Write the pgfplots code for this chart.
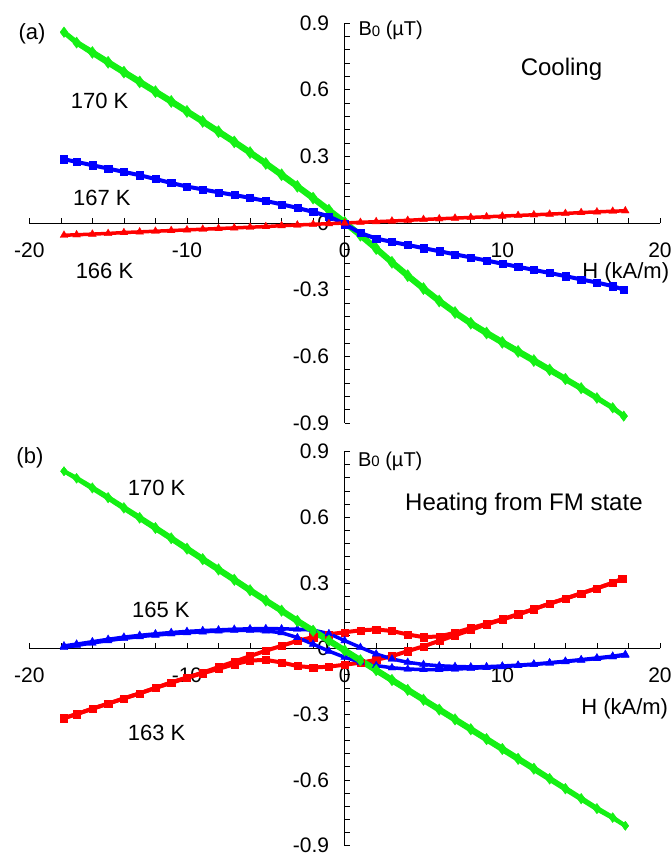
\documentclass[border=0pt]{standalone}
\usepackage{fontspec}
\setmainfont{Liberation Sans}
\usepackage{pgfplots}
\pgfplotsset{compat=1.18}
\definecolor{cgreen}{RGB}{20,240,20}
\definecolor{cblue}{RGB}{0,0,255}
\definecolor{cred}{RGB}{255,0,0}
\newcommand{\tfont}{\fontsize{21}{25}\selectfont}
\newcommand{\lfont}{\fontsize{22}{26}\selectfont}
\newcommand{\bfont}{\fontsize{24}{28}\selectfont}
\newcommand{\Bzero}{\fontsize{20}{24}\selectfont B\raisebox{-0.5pt}{\fontsize{15}{18}\selectfont 0} (µT)}
\pgfplotsset{myax/.style={
  scale only axis, width=630.7pt,
  xmin=-20, xmax=20, ymin=-0.9, ymax=0.9,
  axis lines=middle, axis line style={-, black, line width=0.8pt},
  xtick={-20,-10,0,10,20}, xticklabels={-20,-10,0,10,20},
  ytick={-0.9,-0.6,-0.3,0,0.3,0.6,0.9},
  yticklabels={-0.9,-0.6,-0.3,0,0.3,0.6,0.9},
  minor x tick num=4, minor y tick num=4,
  tick align=inside, major tick length=5pt, minor tick length=5pt,
  tick style={black, line width=0.6pt},
  hide obscured x ticks=false, hide obscured y ticks=false,
  tick label style={font=\tfont},
  xticklabel style={yshift=-16pt},
  yticklabel style={xshift=-12pt},
  clip=false,
},
gr/.style={cgreen, line width=4.5pt, mark=diamond*, mark size=5pt, mark options={solid,line width=0.3pt}},
bs/.style={cblue, line width=4pt, mark=square*, mark size=3.6pt, mark options={solid,line width=0.3pt}},
bt/.style={cblue, line width=3.5pt, mark=triangle*, mark size=4.5pt, mark options={solid,line width=0.3pt}},
rs/.style={cred, line width=4pt, mark=square*, mark size=3.6pt, mark options={solid,line width=0.3pt}},
rt/.style={cred, line width=3.5pt, mark=triangle*, mark size=4.5pt, mark options={solid,line width=0.3pt}},
}
\begin{document}
\begin{tikzpicture}[x=1pt,y=1pt]
\useasboundingbox (0,0) rectangle (672,857);
% ---------------- panel (a) ----------------
\begin{axis}[myax, at={(29.3pt,434pt)}, anchor=south west, height=400pt]
\addplot[gr] table {
-17.8 0.86
-17 0.815
-16 0.772
-15 0.728
-14 0.684
-13 0.64
-12 0.596
-11 0.552
-10 0.507
-9 0.462
-8 0.416
-7 0.37
-6 0.322
-5 0.273
-4 0.222
-3 0.17
-2 0.117
-1 0.063
0 0.008
1 -0.05
2 -0.11
3 -0.172
4 -0.232
5 -0.29
6 -0.346
7 -0.398
8 -0.446
9 -0.49
10 -0.532
11 -0.573
12 -0.614
13 -0.656
14 -0.698
15 -0.74
16 -0.785
17 -0.83
17.7 -0.868
};
\addplot[gr] table {
-17.8 0.857
-17 0.809
-16 0.763
-15 0.718
-14 0.674
-13 0.63
-12 0.586
-11 0.542
-10 0.497
-9 0.452
-8 0.406
-7 0.36
-6 0.312
-5 0.263
-4 0.212
-3 0.16
-2 0.107
-1 0.053
0 -0.002
1 -0.06
2 -0.12
3 -0.182
4 -0.242
5 -0.3
6 -0.356
7 -0.408
8 -0.456
9 -0.5
10 -0.542
11 -0.583
12 -0.624
13 -0.665
14 -0.706
15 -0.747
16 -0.79
17 -0.833
17.7 -0.87
};
\addplot[bs] table {
-17.8 0.287
-17 0.275
-16 0.26
-15 0.245
-14 0.23
-13 0.215
-12 0.198
-11 0.18
-10 0.164
-9 0.151
-8 0.138
-7 0.126
-6 0.113
-5 0.099
-4 0.084
-3 0.068
-2 0.05
-1 0.03
0 -0.005
1 -0.045
2 -0.07
3 -0.085
4 -0.099
5 -0.113
6 -0.127
7 -0.141
8 -0.155
9 -0.169
10 -0.183
11 -0.197
12 -0.211
13 -0.225
14 -0.239
15 -0.254
16 -0.268
17 -0.284
17.7 -0.3
};
\addplot[rt] table {
-17.8 -0.055
-17 -0.053
-16 -0.05
-15 -0.047
-14 -0.043
-13 -0.04
-12 -0.037
-11 -0.034
-10 -0.031
-9 -0.028
-8 -0.025
-7 -0.022
-6 -0.019
-5 -0.016
-4 -0.012
-3 -0.009
-2 -0.006
-1 -0.003
0 0
1 0.003
2 0.006
3 0.009
4 0.012
5 0.016
6 0.019
7 0.022
8 0.025
9 0.028
10 0.031
11 0.034
12 0.037
13 0.04
14 0.043
15 0.047
16 0.05
17 0.053
17.8 0.055
};
\node[font=\lfont, inner sep=0pt] at (axis cs:-19.83,0.85) {(a)};
\node[font=\lfont, inner sep=0pt] at (axis cs:-15.54,0.55) {170 K};
\node[font=\lfont, inner sep=0pt] at (axis cs:-15.4,0.115) {167 K};
\node[font=\lfont, inner sep=0pt] at (axis cs:-15.23,-0.215) {166 K};
\node[font=\bfont, inner sep=0pt] at (axis cs:13.75,0.693) {Cooling};
\node[inner sep=0pt, anchor=west] at (axis cs:0.87,0.865) {\Bzero};
\node[font=\lfont, inner sep=0pt] at (axis cs:17.83,-0.222) {H (kA/m)};
\end{axis}
% ---------------- panel (b) ----------------
\begin{axis}[myax, at={(29.3pt,11.5pt)}, anchor=south west, height=394pt]
\addplot[rs] table {
-17.8 -0.318
-17 -0.3
-16 -0.275
-15 -0.252
-14 -0.228
-13 -0.205
-12 -0.18
-11 -0.155
-10 -0.132
-9 -0.11
-8 -0.085
-7 -0.06
-6 -0.035
-5 -0.01
-4 0.012
-3 0.035
-2 0.052
-1 0.065
0 0.074
1 0.083
2 0.087
3 0.08
4 0.064
5 0.052
6 0.055
7 0.072
8 0.093
9 0.113
10 0.134
11 0.157
12 0.18
13 0.205
14 0.228
15 0.252
16 0.275
17 0.3
17.6 0.318
};
\addplot[rs] table {
-17.8 -0.318
-17 -0.3
-16 -0.275
-15 -0.252
-14 -0.228
-13 -0.205
-12 -0.18
-11 -0.157
-10 -0.134
-9 -0.113
-8 -0.093
-7 -0.072
-6 -0.055
-5 -0.052
-4 -0.064
-3 -0.08
-2 -0.087
-1 -0.083
0 -0.074
1 -0.065
2 -0.052
3 -0.035
4 -0.012
5 0.01
6 0.035
7 0.06
8 0.085
9 0.11
10 0.132
11 0.155
12 0.18
13 0.205
14 0.228
15 0.252
16 0.275
17 0.3
17.6 0.318
};
\addplot[bt] table {
-17.8 0.012
-17 0.02
-16 0.031
-15 0.042
-14 0.052
-13 0.06
-12 0.067
-11 0.073
-10 0.078
-9 0.082
-8 0.085
-7 0.088
-6 0.09
-5 0.091
-4 0.09
-3 0.088
-2 0.084
-1 0.068
0 0.036
1 0.005
2 -0.025
3 -0.048
4 -0.063
5 -0.073
6 -0.079
7 -0.082
8 -0.084
9 -0.083
10 -0.08
11 -0.076
12 -0.071
13 -0.065
14 -0.058
15 -0.051
16 -0.043
17 -0.035
17.8 -0.027
};
\addplot[bt] table {
-17.8 0.005
-17 0.014
-16 0.025
-15 0.036
-14 0.046
-13 0.054
-12 0.061
-11 0.067
-10 0.072
-9 0.076
-8 0.08
-7 0.083
-6 0.083
-5 0.08
-4 0.072
-3 0.05
-2 0.02
-1 -0.012
0 -0.04
1 -0.062
2 -0.078
3 -0.088
4 -0.094
5 -0.096
6 -0.096
7 -0.094
8 -0.091
9 -0.087
10 -0.083
11 -0.078
12 -0.073
13 -0.067
14 -0.06
15 -0.053
16 -0.046
17 -0.038
17.8 -0.031
};
\addplot[gr, line width=4pt, mark size=4.5pt] table {
-17.8 0.81
-17 0.775
-16 0.73
-15 0.685
-14 0.638
-13 0.592
-12 0.545
-11 0.498
-10 0.45
-9 0.402
-8 0.355
-7 0.308
-6 0.26
-5 0.213
-4 0.167
-3 0.12
-2 0.075
-1 0.03
0 -0.015
1 -0.06
2 -0.105
3 -0.15
4 -0.195
5 -0.24
6 -0.285
7 -0.33
8 -0.375
9 -0.42
10 -0.465
11 -0.51
12 -0.555
13 -0.6
14 -0.645
15 -0.69
16 -0.735
17 -0.775
17.8 -0.81
};
\addplot[gr, line width=4pt, mark size=4.5pt] table {
-17.8 0.81
-17 0.78
-16 0.737
-15 0.693
-14 0.647
-13 0.602
-12 0.556
-11 0.509
-10 0.462
-9 0.414
-8 0.367
-7 0.32
-6 0.272
-5 0.225
-4 0.179
-3 0.132
-2 0.087
-1 0.042
0 -0.003
1 -0.048
2 -0.093
3 -0.138
4 -0.183
5 -0.228
6 -0.273
7 -0.318
8 -0.363
9 -0.408
10 -0.453
11 -0.498
12 -0.543
13 -0.59
14 -0.636
15 -0.682
16 -0.728
17 -0.77
17.8 -0.81
};
\node[font=\lfont, inner sep=0pt] at (axis cs:-19.96,0.87) {(b)};
\node[font=\lfont, inner sep=0pt] at (axis cs:-11.93,0.733) {170 K};
\node[font=\bfont, inner sep=0pt] at (axis cs:11.37,0.66) {Heating from FM state};
\node[font=\lfont, inner sep=0pt] at (axis cs:-11.66,0.175) {165 K};
\node[font=\lfont, inner sep=0pt] at (axis cs:-11.93,-0.387) {163 K};
\node[inner sep=0pt, anchor=west] at (axis cs:0.84,0.856) {\Bzero};
\node[font=\lfont, inner sep=0pt] at (axis cs:17.76,-0.277) {H (kA/m)};
\end{axis}
\end{tikzpicture}
\end{document}
